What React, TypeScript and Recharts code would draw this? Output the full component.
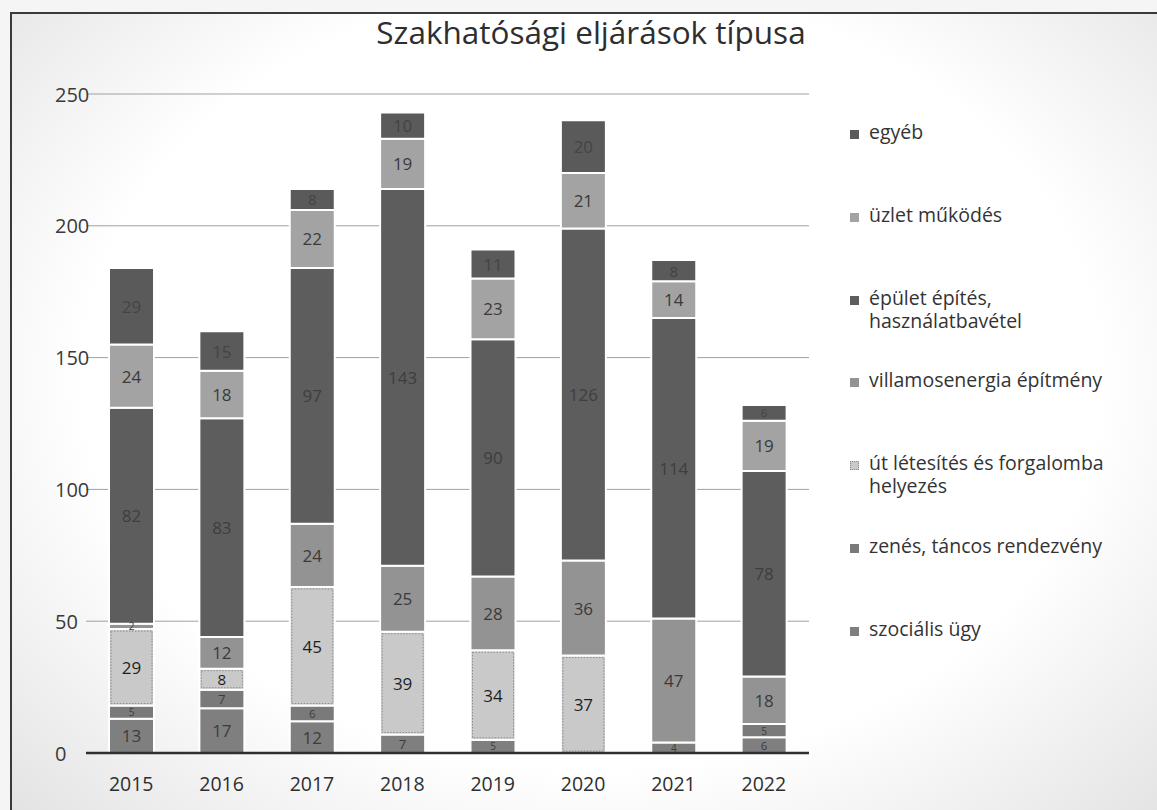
import { Bar, BarChart, CartesianGrid, LabelList, XAxis, YAxis } from "recharts";

const years = ["2015", "2016", "2017", "2018", "2019", "2020", "2021", "2022"];
const szocialis = [13, 17, 12, 7, 5, 0, 4, 6];
const zenes = [5, 7, 6, 0, 0, 0, 0, 5];
const ut = [29, 8, 45, 39, 34, 37, 0, 0];
const villamos = [2, 12, 24, 25, 28, 36, 47, 18];
const epulet = [82, 83, 97, 143, 90, 126, 114, 78];
const uzlet = [24, 18, 22, 19, 23, 21, 14, 19];
const egyeb = [29, 15, 8, 10, 11, 20, 8, 6];
const yTicks = [0, 50, 100, 150, 200, 250];

// stacking order, bottom to top
const series = [
  { key: "szocialis", name: "szociális ügy", values: szocialis, color: "#7f7f7f", label: "#3c3c3c" },
  { key: "zenes", name: "zenés, táncos rendezvény", values: zenes, color: "#7a7a7a", label: "#3c3c3c" },
  { key: "ut", name: "út létesítés és forgalomba helyezés", values: ut, color: "#c9c9c9", label: "#1e1e1e" },
  { key: "villamos", name: "villamosenergia építmény", values: villamos, color: "#939393", label: "#3a3a3a" },
  { key: "epulet", name: "épület építés, használatbavétel", values: epulet, color: "#5d5d5d", label: "#3e3e3e" },
  { key: "uzlet", name: "üzlet működés", values: uzlet, color: "#a3a3a3", label: "#3a3a3a" },
  { key: "egyeb", name: "egyéb", values: egyeb, color: "#5a5a5a", label: "#444444" },
];

const data = years.map((year, i) => {
  const row: Record<string, string | number> = { year };
  series.forEach((s) => {
    row[s.key] = s.values[i];
  });
  return row;
});

const FONT = "'Open Sans', sans-serif";

const DottedBar = (props: any) => {
  const { x, y, width, height, fill } = props;
  if (!height || height <= 0) return null;
  return (
    <g>
      <rect x={x} y={y} width={width} height={height} fill={fill} stroke="#ffffff" strokeWidth={2} />
      {height > 5 && (
        <rect
          x={x + 2}
          y={y + 2}
          width={width - 4}
          height={height - 4}
          fill="none"
          stroke="#8c8c8c"
          strokeWidth={1}
          strokeDasharray="1.5 1.5"
        />
      )}
    </g>
  );
};

// segment label, shrunk a little on very thin segments
const segmentLabel = (color: string) => (props: any) => {
  const { viewBox, value } = props;
  if (!value || !viewBox) return null;
  const { x, y, width, height } = viewBox;
  const size = Math.max(10, Math.min(17, height * 0.72));
  return (
    <text
      x={x + width / 2}
      y={y + height / 2}
      textAnchor="middle"
      dominantBaseline="central"
      fontSize={size}
      fill={color}
      fontFamily={FONT}
    >
      {value}
    </text>
  );
};

const YTick = ({ y, payload }: any) => (
  <text x={55} y={y} dominantBaseline="central" textAnchor="start" fontSize={20} fill="#3a3a3a" fontFamily={FONT}>
    {payload.value}
  </text>
);

const XTick = ({ x, y, payload }: any) => (
  <text x={x} y={y + 28} dominantBaseline="central" textAnchor="middle" fontSize={19.5} fill="#2e2e2e" fontFamily={FONT}>
    {payload.value}
  </text>
);

const legendItems = [...series].reverse();

export default function App() {
  return (
    <div
      style={{
        position: "fixed",
        left: 0,
        top: 0,
        width: 1157,
        height: 810,
        background: "#f5f5f5",
        overflow: "hidden",
      }}
    >
      <div
        style={{
          position: "absolute",
          left: 10,
          top: 12,
          width: 1160,
          height: 810,
          borderTop: "2px solid #3a3a3a",
          borderLeft: "2px solid #3a3a3a",
          background: "radial-gradient(ellipse at 50% 45%, #ffffff 62%, #e2e2e2 100%)",
        }}
      />
      <div
        style={{
          position: "absolute",
          left: 0,
          top: 10,
          width: 1182,
          textAlign: "center",
          fontFamily: FONT,
          fontSize: 31.5,
          color: "#2e2e2e",
        }}
      >
        Szakhatósági eljárások típusa
      </div>
      <div style={{ position: "absolute", left: 0, top: 0 }}>
        <BarChart
          width={1157}
          height={810}
          data={data}
          margin={{ top: 94, right: 348, bottom: 0, left: 0 }}
          barSize={45}
        >
          <CartesianGrid vertical={false} stroke="#a0a0a0" strokeWidth={1} />
          <XAxis
            dataKey="year"
            height={57}
            tickLine={false}
            tickSize={0}
            axisLine={{ stroke: "#2f2f2f", strokeWidth: 2.5 }}
            tick={<XTick />}
          />
          <YAxis
            width={86}
            domain={[0, 250]}
            ticks={yTicks}
            axisLine={false}
            tickLine={false}
            tick={<YTick />}
          />
          {series.map((s) => (
            <Bar
              key={s.key}
              dataKey={s.key}
              name={s.name}
              stackId="a"
              fill={s.color}
              stroke="#ffffff"
              strokeWidth={2}
              isAnimationActive={false}
              shape={s.key === "ut" ? <DottedBar /> : undefined}
            >
              <LabelList dataKey={s.key} content={segmentLabel(s.label)} />
            </Bar>
          ))}
        </BarChart>
      </div>
      <div style={{ position: "absolute", left: 850, top: 120, fontFamily: FONT, fontSize: 19.5, color: "#333333" }}>
        {legendItems.map((s) => (
          <div key={s.key} style={{ height: 82.8, display: "flex", alignItems: "flex-start" }}>
            <span
              style={{
                width: 9,
                height: 9,
                marginTop: 10,
                marginRight: 10,
                background: s.color,
                border: s.key === "ut" ? "1px dotted #888" : "none",
                boxSizing: "border-box",
                flexShrink: 0,
              }}
            />
            <span style={{ lineHeight: "23px", width: 255 }}>{s.name}</span>
          </div>
        ))}
      </div>
    </div>
  );
}
